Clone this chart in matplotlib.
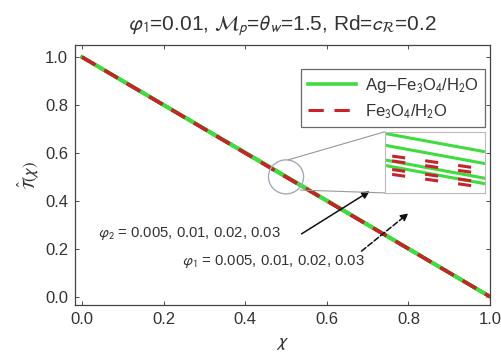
import matplotlib
matplotlib.use("Agg")
import matplotlib.pyplot as plt
from matplotlib.patches import Ellipse, ConnectionPatch

plt.rcParams['font.family'] = ['Liberation Sans', 'DejaVu Sans']
plt.rcParams['mathtext.fontset'] = 'stixsans'

# ---- data ----
chi = [0.0, 0.4991, 0.5009, 1.0]
phi_values = ["0.005", "0.01", "0.02", "0.03"]
T_hybrid = [
    [1.0, 0.50334, 0.50154, 0.0],
    [1.0, 0.50218, 0.50038, 0.0],
    [1.0, 0.50074, 0.49894, 0.0],
    [1.0, 0.50020, 0.49840, 0.0],
]
T_mono = [
    [1.0, 0.50122, 0.49982, 0.0],
    [1.0, 0.50074, 0.49934, 0.0],
    [1.0, 0.49990, 0.49850, 0.0],
    [1.0, 0.49942, 0.49802, 0.0],
]
legend_labels = [r"Ag$-$Fe$_3$O$_4$/H$_2$O", r"Fe$_3$O$_4$/H$_2$O"]
xticks = [0.0, 0.2, 0.4, 0.6, 0.8, 1.0]
yticks = [0.0, 0.2, 0.4, 0.6, 0.8, 1.0]

GREEN = '#3fdc3f'
RED = '#c8232b'

fig = plt.figure(figsize=(5.01, 3.64), dpi=100)
ax = fig.add_axes([0.150, 0.162, 0.828, 0.714])

for i, T in enumerate(T_hybrid):
    ax.plot(chi, T, color=GREEN, lw=2.6, label=legend_labels[0] if i == 0 else None, zorder=2)
for i, T in enumerate(T_mono):
    ax.plot(chi, T, color=RED, lw=2.2, ls=(0, (5, 3.5)), label=legend_labels[1] if i == 0 else None, zorder=3)

ax.set_xlim(-0.017, 1.0)
ax.set_ylim(-0.035, 1.05)
ax.set_xticks(xticks)
ax.set_yticks(yticks)
ax.set_xticklabels([f"{v:.1f}" for v in xticks])
ax.set_yticklabels([f"{v:.1f}" for v in yticks])
ax.tick_params(direction='in', length=3, width=0.6, top=True, right=True,
               labelsize=12, colors='#333333', labelcolor='#333333', pad=5)
for s in ax.spines.values():
    s.set_color('#444444')
    s.set_linewidth(0.9)

ax.set_xlabel(r"$\chi$", fontsize=13, color='#333333', labelpad=6)
ax.set_ylabel(r"$\hat{\mathcal{T}}(\chi)$", fontsize=12, color='#333333', labelpad=3)
ax.set_title(r"$\varphi_1$=0.01, $\mathcal{M}_p$=$\theta_w$=1.5, Rd=$c_{\mathcal{R}}$=0.2",
             fontsize=15, color='#333333', pad=11)

leg = ax.legend(loc='upper right', bbox_to_anchor=(1.008, 0.94), fontsize=12,
                frameon=True, fancybox=False, handlelength=2.9, borderpad=0.4,
                labelspacing=0.45, handletextpad=0.5)
leg.get_frame().set_edgecolor('#444444')
leg.get_frame().set_linewidth(0.9)
for t in leg.get_texts():
    t.set_color('#333333')

# zoom circle
ell = Ellipse((0.5, 0.5), 0.086, 0.142, fill=False, edgecolor='#a8a8b8', lw=1.0, zorder=4)
ax.add_patch(ell)

# inset
axin = fig.add_axes([0.768, 0.470, 0.200, 0.168])
for T in T_hybrid:
    axin.plot(chi, T, color=GREEN, lw=2.2)
for T in T_mono:
    axin.plot(chi, T, color=RED, lw=2.2, ls=(0, (4.3, 6.6)))
axin.set_xlim(0.4991, 0.5009)
axin.set_ylim(0.4975, 0.5035)
axin.set_xticks([])
axin.set_yticks([])
for s in axin.spines.values():
    s.set_color('#bbbbbb')
    s.set_linewidth(0.8)

con1 = ConnectionPatch(xyA=(0.505, 0.571), coordsA=ax.transData,
                       xyB=(0.0, 1.0), coordsB=axin.transAxes,
                       color='#999999', lw=0.8)
con2 = ConnectionPatch(xyA=(0.535, 0.445), coordsA=ax.transData,
                       xyB=(0.0, 0.0), coordsB=axin.transAxes,
                       color='#999999', lw=0.8)
fig.add_artist(con1)
fig.add_artist(con2)

# annotations
ax.annotate("", xy=(0.705, 0.44), xytext=(0.538, 0.262),
            arrowprops=dict(arrowstyle='-|>', color='#111111', lw=1.1,
                            mutation_scale=11, shrinkA=0, shrinkB=0))
ax.annotate("", xy=(0.80, 0.348), xytext=(0.685, 0.19),
            arrowprops=dict(arrowstyle='-|>', color='#111111', lw=1.1, ls='--',
                            mutation_scale=11, shrinkA=0, shrinkB=0))
ax.text(0.04, 0.262, r"$\varphi_2$ = " + ", ".join(phi_values), fontsize=10.7,
        color='#333333', va='center', ha='left')
ax.text(0.245, 0.145, r"$\varphi_1$ = " + ", ".join(phi_values), fontsize=10.7,
        color='#333333', va='center', ha='left')

fig.savefig("out.png", dpi=100)
